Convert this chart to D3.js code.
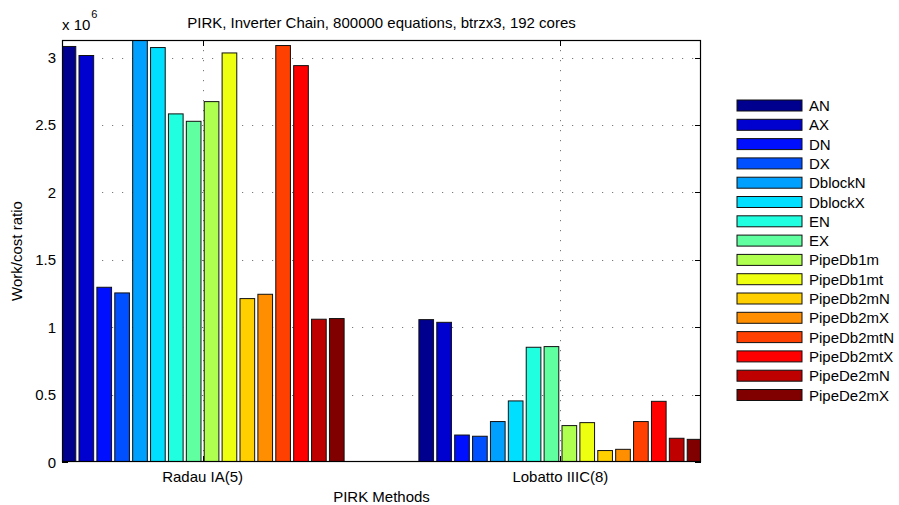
<!DOCTYPE html>
<html>
<head>
<meta charset="utf-8">
<script src="https://cdn.jsdelivr.net/npm/d3@7"></script>
<style>
  html, body { margin: 0; padding: 0; background: #fff; }
  svg { display: block; }
  text { font-family: "Liberation Sans", Arial, Helvetica, sans-serif; fill: #000; }
</style>
</head>
<body>
<svg id="chart" width="899" height="505"></svg>
<script>
// Work/cost ratio (x 10^6) per PIRK method and solver variant
const methods = ["Radau IA(5)", "Lobatto IIIC(8)"];
const variants = ["AN", "AX", "DN", "DX", "DblockN", "DblockX", "EN", "EX",
  "PipeDb1m", "PipeDb1mt", "PipeDb2mN", "PipeDb2mX", "PipeDb2mtN", "PipeDb2mtX",
  "PipeDe2mN", "PipeDe2mX"];
const radauValues = [3.082, 3.015, 1.296, 1.254, 3.20, 3.074, 2.582, 2.527,
  2.673, 3.034, 1.212, 1.244, 3.089, 2.940, 1.059, 1.064];
const lobattoValues = [1.056, 1.036, 0.200, 0.191, 0.300, 0.453, 0.851, 0.856,
  0.270, 0.292, 0.085, 0.094, 0.300, 0.450, 0.176, 0.168];
const seriesValues = [radauValues, lobattoValues];
const yTicks = [0, 0.5, 1, 1.5, 2, 2.5, 3];
const yTickLabels = ["0", "0.5", "1", "1.5", "2", "2.5", "3"];
// jet colormap samples, one per variant
const colors = ["#00008F", "#0000CF", "#0010FF", "#0050FF", "#00A0FF", "#00DFFF",
  "#20FFDF", "#60FF9F", "#AFFF50", "#EFFF10", "#FFCF00", "#FF8F00", "#FF4000",
  "#FF0000", "#BF0000", "#800000"];

const svg = d3.select("#chart");
const L = 62, R = 701, T = 40, B = 462;

const x = d3.scaleLinear().domain([0.607, 2.393]).range([L, R]);
const y = d3.scaleLinear().domain([0, 3.13]).range([B, T]);
const color = d3.scaleOrdinal().domain(variants).range(colors);

const slot = 0.05;       // spacing of bars inside a group
const barW = 0.041;      // bar width in category units
const nV = variants.length;

svg.append("defs").append("clipPath").attr("id", "plotClip")
  .append("rect").attr("x", L).attr("y", T).attr("width", R - L).attr("height", B - T);

// dotted grid
const grid = svg.append("g").attr("stroke", "#7a7a7a").attr("stroke-width", 1)
  .attr("stroke-dasharray", "1.2,8.8");
yTicks.slice(1).forEach(v => {
  grid.append("line").attr("x1", L).attr("x2", R)
    .attr("y1", Math.round(y(v)) + 0.5).attr("y2", Math.round(y(v)) + 0.5);
});
[1, 2].forEach(v => {
  grid.append("line").attr("y1", T).attr("y2", B)
    .attr("x1", Math.round(x(v)) + 0.5).attr("x2", Math.round(x(v)) + 0.5);
});

// inward tick marks
const ticks = svg.append("g").attr("stroke", "#000").attr("stroke-width", 1);
yTicks.forEach(v => {
  const yy = Math.round(y(v)) + 0.5;
  ticks.append("line").attr("x1", L).attr("x2", L + 6).attr("y1", yy).attr("y2", yy);
  ticks.append("line").attr("x1", R - 6).attr("x2", R).attr("y1", yy).attr("y2", yy);
});
[1, 2].forEach(v => {
  const xx = Math.round(x(v)) + 0.5;
  ticks.append("line").attr("x1", xx).attr("x2", xx).attr("y1", B).attr("y2", B - 6);
  ticks.append("line").attr("x1", xx).attr("x2", xx).attr("y1", T).attr("y2", T + 6);
});

// bars
const bars = svg.append("g").attr("clip-path", "url(#plotClip)");
methods.forEach((m, gi) => {
  const vals = seriesValues[gi];
  bars.selectAll(null).data(variants).enter().append("rect")
    .attr("x", (d, i) => x(gi + 1 + (i - (nV - 1) / 2) * slot - barW / 2))
    .attr("width", x(barW) - x(0))
    .attr("y", (d, i) => y(vals[i]))
    .attr("height", (d, i) => y(0) - y(vals[i]))
    .attr("fill", d => color(d))
    .attr("stroke", "#111")
    .attr("stroke-width", 1);
});

// axes box
svg.append("rect").attr("x", L + 0.5).attr("y", T + 0.5)
  .attr("width", R - L - 1).attr("height", B - T - 1)
  .attr("fill", "none").attr("stroke", "#000").attr("stroke-width", 1.2);

// y tick labels
svg.append("g").selectAll("text").data(yTicks).enter().append("text")
  .attr("x", L - 6).attr("y", d => y(d) + 5.5)
  .attr("text-anchor", "end").attr("font-size", 15)
  .text((d, i) => yTickLabels[i]);

// x tick labels
svg.append("g").selectAll("text").data(methods).enter().append("text")
  .attr("x", (d, i) => x(i + 1)).attr("y", 482)
  .attr("text-anchor", "middle").attr("font-size", 15)
  .text(d => d);

// exponent marker
const expo = svg.append("text").attr("x", 62).attr("y", 30).attr("font-size", 15);
expo.append("tspan").text("x 10");
expo.append("tspan").attr("dx", 1).attr("dy", -12).attr("font-size", 11).text("6");

// title and axis labels
svg.append("text").attr("x", (L + R) / 2).attr("y", 28)
  .attr("text-anchor", "middle").attr("font-size", 15)
  .text("PIRK, Inverter Chain, 800000 equations, btrzx3, 192 cores");
svg.append("text").attr("x", (L + R) / 2).attr("y", 502)
  .attr("text-anchor", "middle").attr("font-size", 15)
  .text("PIRK Methods");
svg.append("text").attr("transform", `translate(22, ${(T + B) / 2}) rotate(-90)`)
  .attr("text-anchor", "middle").attr("font-size", 15)
  .text("Work/cost ratio");

// legend
const leg = svg.append("g");
variants.forEach((v, i) => {
  const yy = 100 + i * 19.3;
  leg.append("rect").attr("x", 737).attr("y", yy).attr("width", 65).attr("height", 11)
    .attr("fill", color(v)).attr("stroke", "#111").attr("stroke-width", 1);
  leg.append("text").attr("x", 809).attr("y", yy + 11)
    .attr("font-size", 15).text(v);
});
</script>
</body>
</html>
